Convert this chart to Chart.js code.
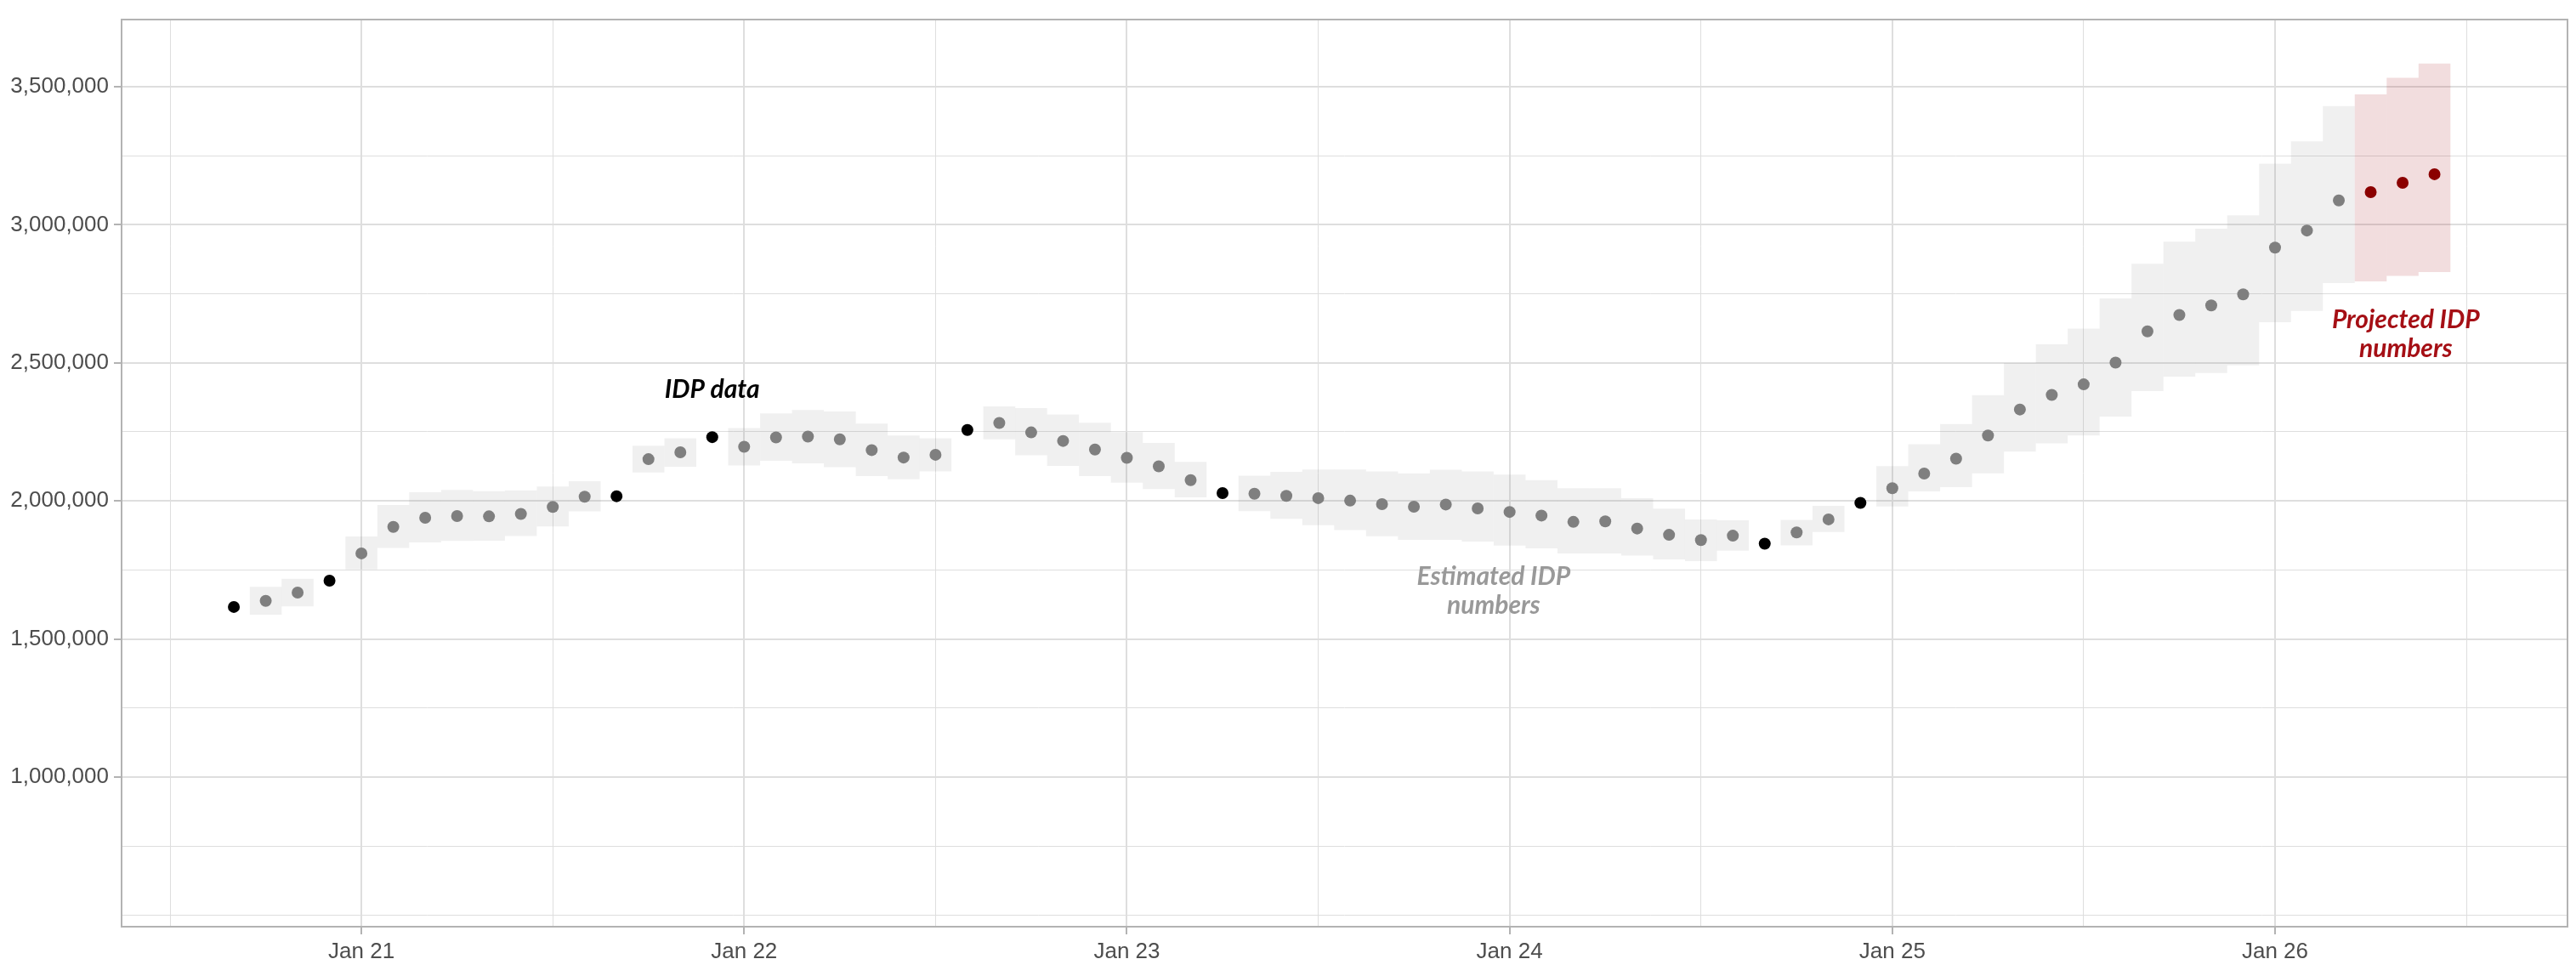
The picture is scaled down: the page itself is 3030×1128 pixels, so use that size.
<!DOCTYPE html>
<html>
<head>
<meta charset="utf-8">
<script src="https://cdn.jsdelivr.net/npm/chart.js@4.4.1/dist/chart.umd.min.js"></script>
<style>
  html, body { margin: 0; padding: 0; background: #fff; }
</style>
</head>
<body>
<canvas id="myChart" width="3030" height="1128"></canvas>
<script>
// IDP data points (black)
var dataMonths = ['2020-09','2020-12','2021-09','2021-12','2022-08','2023-04','2024-09','2024-12'];
var dataValues = [1616000, 1711000, 2017000, 2231000, 2257000, 2028000, 1845000, 1993000];

// estimated IDP numbers (grey) with range
var estMonths = ['2020-10','2020-11',
  '2021-01','2021-02','2021-03','2021-04','2021-05','2021-06','2021-07','2021-08','2021-10','2021-11',
  '2022-01','2022-02','2022-03','2022-04','2022-05','2022-06','2022-07','2022-09','2022-10','2022-11','2022-12',
  '2023-01','2023-02','2023-03','2023-05','2023-06','2023-07','2023-08','2023-09','2023-10','2023-11','2023-12',
  '2024-01','2024-02','2024-03','2024-04','2024-05','2024-06','2024-07','2024-08','2024-10','2024-11',
  '2025-01','2025-02','2025-03','2025-04','2025-05','2025-06','2025-07','2025-08','2025-09','2025-10','2025-11','2025-12',
  '2026-01','2026-02','2026-03'];
var estValues = [1638000, 1668000,
  1810000, 1906000, 1939000, 1945000, 1944000, 1953000, 1978000, 2015000, 2151000, 2176000,
  2196000, 2230000, 2233000, 2223000, 2184000, 2157000, 2167000, 2282000, 2248000, 2217000, 2186000,
  2156000, 2125000, 2075000, 2026000, 2018000, 2010000, 2001000, 1988000, 1979000, 1987000, 1973000,
  1960000, 1947000, 1924000, 1926000, 1900000, 1877000, 1858000, 1874000, 1886000, 1933000,
  2046000, 2099000, 2153000, 2237000, 2331000, 2384000, 2422000, 2501000, 2614000, 2673000, 2708000, 2748000,
  2917000, 2979000, 3088000];
var estLow = [1588000, 1618000,
  1752000, 1830000, 1850000, 1855000, 1856000, 1873000, 1907000, 1962000, 2103000, 2124000,
  2128000, 2145000, 2136000, 2122000, 2090000, 2078000, 2107000, 2223000, 2165000, 2127000, 2090000,
  2066000, 2043000, 2013000, 1963000, 1935000, 1912000, 1894000, 1872000, 1859000, 1859000, 1853000,
  1838000, 1828000, 1810000, 1810000, 1802000, 1788000, 1782000, 1820000, 1839000, 1887000,
  1980000, 2034000, 2050000, 2100000, 2178000, 2208000, 2237000, 2305000, 2398000, 2450000, 2463000, 2491000,
  2647000, 2688000, 2789000];
var estHigh = [1689000, 1718000,
  1871000, 1985000, 2031000, 2040000, 2035000, 2038000, 2052000, 2071000, 2200000, 2227000,
  2264000, 2317000, 2329000, 2324000, 2280000, 2237000, 2227000, 2342000, 2336000, 2313000, 2283000,
  2249000, 2210000, 2141000, 2091000, 2105000, 2114000, 2114000, 2107000, 2100000, 2113000, 2107000,
  2095000, 2075000, 2046000, 2046000, 2010000, 1972000, 1933000, 1930000, 1931000, 1982000,
  2126000, 2205000, 2278000, 2383000, 2499000, 2567000, 2624000, 2733000, 2859000, 2939000, 2986000, 3034000,
  3221000, 3302000, 3430000];

// projected IDP numbers (red) with range
var projMonths = ['2026-04','2026-05','2026-06'];
var projValues = [3118000, 3152000, 3183000];
var projLow = [2795000, 2815000, 2829000];
var projHigh = [3472000, 3532000, 3584000];

// axis ticks
var xTickMonths = ['2020-07','2021-01','2021-07','2022-01','2022-07','2023-01','2023-07','2024-01','2024-07','2025-01','2025-07','2026-01','2026-07'];
var xTickLabels = ['', 'Jan 21', '', 'Jan 22', '', 'Jan 23', '', 'Jan 24', '', 'Jan 25', '', 'Jan 26', ''];
var yTickValues = [500000, 750000, 1000000, 1250000, 1500000, 1750000, 2000000, 2250000, 2500000, 2750000, 3000000, 3250000, 3500000];
var yTickMajor = [1000000, 1500000, 2000000, 2500000, 3000000, 3500000];

function monthNum(s) {
    var p = s.split('-');
    return (Number(p[0]) - 2020) * 12 + (Number(p[1]) - 1);
}

var xTicks = xTickMonths.map(monthNum);

function isMajorX(v) { return v % 12 === 0; }
function isMajorY(v) { return yTickMajor.indexOf(v) >= 0; }

var pts = function(months, values) {
    return months.map(function(m, i) { return {x: monthNum(m), y: values[i]}; });
};
var bands = function(months, lo, hi) {
    return months.map(function(m, i) { return {x: monthNum(m), y: [lo[i], hi[i]]}; });
};

var notes = [
    {lines: ['IDP data'], x: monthNum('2021-12'), y: [2404000], color: '#000000'},
    {lines: ['Estimated IDP', 'numbers'], x: 47.5, y: [1727000, 1622000], color: '#999999'},
    {lines: ['Projected IDP', 'numbers'], x: 76.1, y: [2654000, 2552000], color: '#A50F15'}
];

var panelPlugin = {
    id: 'panel',
    afterDatasetsDraw: function(chart) {
        var c = chart.ctx, a = chart.chartArea;
        c.save();
        c.font = 'italic bold 30px Lato';
        c.textAlign = 'center';
        c.textBaseline = 'middle';
        notes.forEach(function(n) {
            c.fillStyle = n.color;
            n.lines.forEach(function(t, i) {
                c.fillText(t, chart.scales.x.getPixelForValue(n.x), chart.scales.y.getPixelForValue(n.y[i]));
            });
        });
        c.strokeStyle = '#B3B3B3';
        c.lineWidth = 2;
        c.strokeRect(a.left, a.top, a.right - a.left, a.bottom - a.top);
        c.restore();
    }
};

const ctx = document.getElementById('myChart');
var chart = new Chart(ctx, {
    type: 'scatter',
    data: {
        datasets: [
            {
                type: 'bar',
                data: bands(estMonths, estLow, estHigh),
                backgroundColor: 'rgba(128,128,128,0.12)',
                borderWidth: 0,
                inflateAmount: 0,
                barPercentage: 1,
                categoryPercentage: 1,
                grouped: false,
                order: 3
            },
            {
                type: 'bar',
                data: bands(projMonths, projLow, projHigh),
                backgroundColor: 'rgba(165,15,21,0.14)',
                borderWidth: 0,
                inflateAmount: 0,
                barPercentage: 1,
                categoryPercentage: 1,
                grouped: false,
                order: 3
            },
            {
                data: pts(estMonths, estValues),
                backgroundColor: '#7F7F7F',
                borderWidth: 0,
                pointRadius: 7,
                order: 1
            },
            {
                data: pts(dataMonths, dataValues),
                backgroundColor: '#000000',
                borderWidth: 0,
                pointRadius: 7,
                order: 1
            },
            {
                data: pts(projMonths, projValues),
                backgroundColor: '#8B0000',
                borderWidth: 0,
                pointRadius: 7,
                order: 1
            }
        ]
    },
    options: {
        responsive: false,
        animation: false,
        devicePixelRatio: 1,
        layout: { padding: { top: 23, right: 10, left: 0, bottom: 0 } },
        plugins: { legend: { display: false }, tooltip: { enabled: false } },
        scales: {
            x: {
                type: 'linear',
                min: 4.48,
                max: 81.17,
                offset: false,
                afterBuildTicks: function(scale) {
                    scale.ticks = xTicks.map(function(v) { return {value: v}; });
                },
                afterFit: function(scale) { scale.height = 38; },
                border: { display: false },
                grid: {
                    offset: false,
                    color: '#DEDEDE',
                    lineWidth: function(c) { return c.tick && isMajorX(c.tick.value) ? 2 : 1; },
                    tickColor: function(c) { return c.tick && isMajorX(c.tick.value) ? '#B3B3B3' : 'rgba(0,0,0,0)'; },
                    tickLength: 9,
                    tickWidth: 2
                },
                ticks: {
                    autoSkip: false,
                    maxRotation: 0,
                    padding: 5,
                    color: '#4D4D4D',
                    font: { family: 'Liberation Sans', size: 26 },
                    callback: function(v) {
                        var i = xTicks.indexOf(v);
                        return i >= 0 ? xTickLabels[i] : '';
                    }
                }
            },
            y: {
                min: 458100,
                max: 3743000,
                afterBuildTicks: function(scale) {
                    scale.ticks = yTickValues.map(function(v) { return {value: v}; });
                },
                afterFit: function(scale) { scale.width = 143; },
                border: { display: false },
                grid: {
                    color: '#DEDEDE',
                    lineWidth: function(c) { return c.tick && isMajorY(c.tick.value) ? 2 : 1; },
                    tickColor: function(c) { return c.tick && isMajorY(c.tick.value) ? '#B3B3B3' : 'rgba(0,0,0,0)'; },
                    tickLength: 9,
                    tickWidth: 2
                },
                ticks: {
                    autoSkip: false,
                    padding: 6,
                    color: '#4D4D4D',
                    font: { family: 'Liberation Sans', size: 26 },
                    callback: function(v) {
                        return isMajorY(v) ? v.toLocaleString('en-US') : '';
                    }
                }
            }
        }
    },
    plugins: [panelPlugin]
});
</script>
</body>
</html>
